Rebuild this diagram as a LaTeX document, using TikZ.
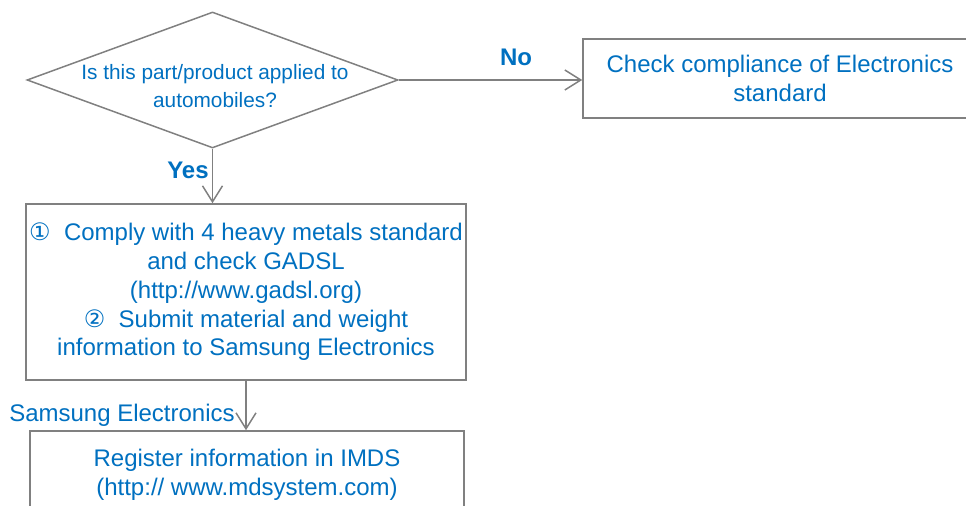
\documentclass[tikz,border=0pt]{standalone}
\usepackage{fontspec}
\setmainfont{Liberation Sans}
\newfontfamily\circfont{DejaVu Sans}
\usetikzlibrary{shapes.geometric, arrows.meta}
\definecolor{TXTBLUE}{HTML}{0070C0}
\definecolor{LINEGRAY}{HTML}{808080}

\begin{document}
\begin{tikzpicture}[x=0.5pt, y=-0.5pt,
    every node/.style={font=\fontsize{12}{14.4}\selectfont, text=TXTBLUE, align=center},
    frame/.style={draw=LINEGRAY, line width=0.75pt, inner sep=0pt},
    flow/.style={LINEGRAY, line width=0.75pt, -{Straight Barb[length=8pt, width=10pt]}}]
    \useasboundingbox (0,0) rectangle (966,506);
    % question
    \node[frame, diamond, minimum width=185.5pt, minimum height=68pt] (ask) at (212.5,80) {};
    \node[font=\fontsize{10.4}{14}\selectfont] (asktext) at (215,86) {Is this part/product applied to\\automobiles?};
    %
    \node[frame, minimum width=197pt, minimum height=39.5pt] (check) at (780,78.5) {Check compliance of Electronics\\standard};
    \node[frame, minimum width=220pt, minimum height=88pt] (comply) at (246,292)
        {{\circfont\char"2460}\ \ Comply with 4 heavy metals standard\\and check GADSL\\(http://www.gadsl.org)\\{\circfont\char"2461}\ \ Submit material and weight\\information to Samsung Electronics};
    \node[frame, minimum width=217pt, minimum height=44pt] (imds) at (247,475) {Register information in IMDS\\(http:// www.mdsystem.com)};
    %
    \draw[flow] (ask.east) -- (ask.east -| check.west);
    \draw[flow] (ask.south) -- (ask.south |- comply.north);
    \draw[flow] (comply.south) -- (comply.south |- imds.north);
    %
    \node[font=\fontsize{12}{14.4}\bfseries] (no) at (516,57) {No};
    \node[font=\fontsize{12}{14.4}\bfseries] (yes) at (188,170) {Yes};
    \node (who) at (122,415) {Samsung Electronics};
\end{tikzpicture}
\end{document}
